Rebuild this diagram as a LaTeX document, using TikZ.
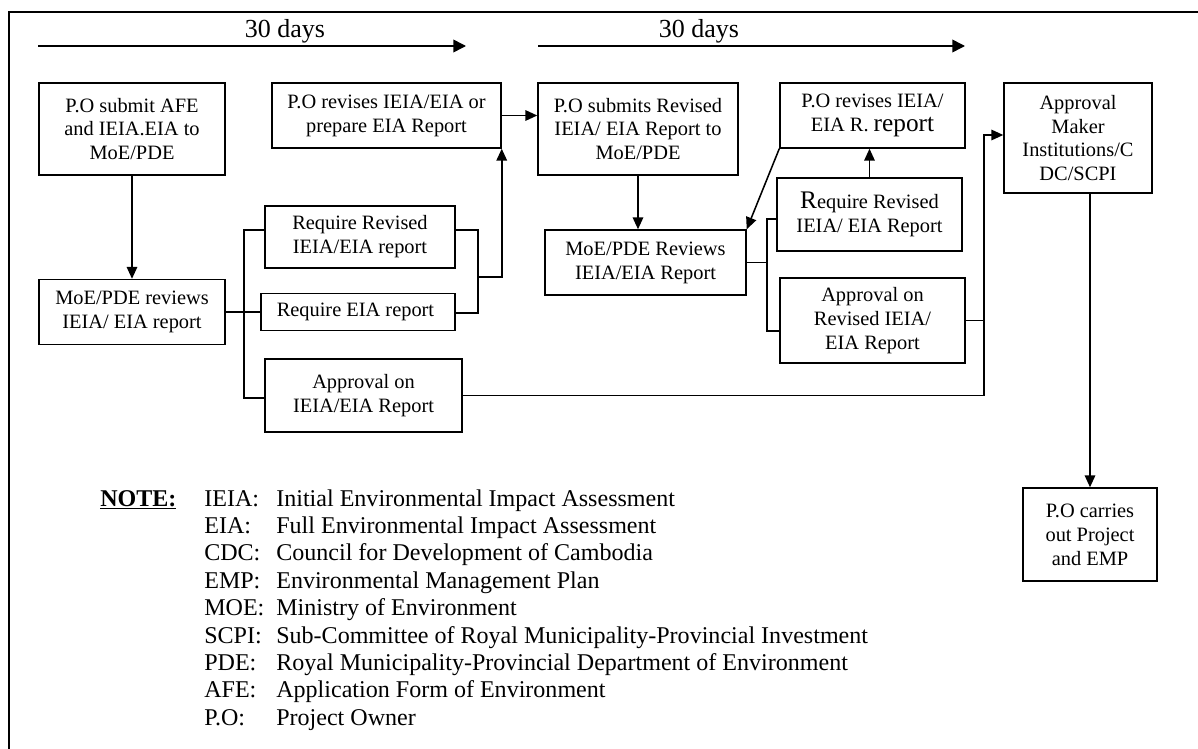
\documentclass[tikz,border=0pt]{standalone}
\usepackage{fontspec}
\setmainfont{Liberation Serif}
\usetikzlibrary{arrows.meta}

\begin{document}
\begin{tikzpicture}[x = 0.025cm, y = -0.025cm,
    every node/.style = { align = center, inner sep = 1pt },
    box/.style = { draw, line width = 1pt, font = \fontsize{14.5}{17}\selectfont },
    flow/.style = { line width = 1.1pt },
    >={Triangle[length = 8.5pt, width = 7.5pt]}]
    \useasboundingbox (0,0) rectangle (1198,749);
    \draw [line width = 1.6pt] (9,749) -- (9,12) -- (1198,12);

    % time lines
    \coordinate (t1a) at (38,46);  \coordinate (t1b) at (466,46);
    \coordinate (t2a) at (538,46); \coordinate (t2b) at (965,46);
    \draw [flow, -{Triangle[length = 9pt, width = 9pt]}] (t1a) -- (t1b);
    \draw [flow, -{Triangle[length = 9pt, width = 9pt]}] (t2a) -- (t2b);
    \node [font = \fontsize{18.5}{20}\selectfont] (days1) at (285,31) {30 days};
    \node [font = \fontsize{18.5}{20}\selectfont] (days2) at (699,31) {30 days};

    % first round
    \node [box, minimum width = 4.65cm, minimum height = 2.3cm] (submit) at (132,129)
      { P.O submit AFE \\ and IEIA.EIA to \\ MoE/PDE };
    \node [box, minimum width = 4.65cm, minimum height = 1.625cm] (review) at (132,312)
      { MoE/PDE reviews \\ IEIA/ EIA report };
    \node [box, minimum width = 5.725cm, minimum height = 1.625cm] (revise) at (386.5,115.5)
      { P.O revises IEIA/EIA or \\ prepare EIA Report };
    \node [box, minimum width = 4.75cm, minimum height = 1.55cm] (reqrev) at (360,237)
      { Require Revised \\ IEIA/EIA report };
    \node [box, minimum width = 4.85cm, minimum height = 0.925cm] (reqeia) at (358,312)
      { Require EIA report };
    \node [box, minimum width = 4.925cm, minimum height = 1.825cm] (approve) at (363.5,395.5)
      { Approval on \\ IEIA/EIA Report };

    % second round
    \node [box, minimum width = 5cm, minimum height = 2.3cm] (resubmit) at (638,129)
      { P.O submits Revised \\ IEIA/ EIA Report to \\ MoE/PDE };
    \node [box, minimum width = 5.025cm, minimum height = 1.625cm] (rereview) at (645.5,262.5)
      { MoE/PDE Reviews \\ IEIA/EIA Report };
    \node [box, minimum width = 4.625cm, minimum height = 1.625cm] (rerevise) at (872.5,115.5)
      { P.O revises IEIA/ \\ EIA R. {\fontsize{18}{17}\selectfont report} };
    \node [box, minimum width = 4.625cm, minimum height = 1.825cm] (rereq) at (869.5,214.5)
      { {\fontsize{18}{17}\selectfont R}equire Revised \\ IEIA/ EIA Report };
    \node [box, minimum width = 4.625cm, minimum height = 2.125cm] (reapprove) at (872.5,320.5)
      { Approval on \\ Revised IEIA/ \\ EIA Report };

    % approval and project
    \node [box, minimum width = 3.7cm, minimum height = 2.75cm] (maker) at (1078,138)
      { Approval \\ Maker \\ Institutions/C \\ DC/SCPI };
    \node [box, minimum width = 3.35cm, minimum height = 2.325cm] (carry) at (1090,534.5)
      { P.O carries \\ out Project \\ and EMP };

    % connectors
    \coordinate (lb1) at (244,230);  \coordinate (lb2) at (244,398);
    \coordinate (rb1) at (478,230);  \coordinate (rb2) at (478,313);
    \coordinate (rb3) at (478,277);
    \coordinate (hb1) at (767,219);  \coordinate (hb2) at (767,331);
    \coordinate (kb) at (984,135);
    \draw [flow, ->] (submit) -- (review);
    \draw [flow] (review.east) -- (reqeia.west);
    \draw [flow] (reqrev.west |- lb1) -- (lb1) -- (lb2) -- (approve.west |- lb2);
    \draw [flow] (reqrev.east |- rb1) -- (rb1) -- (rb2) -- (reqeia.east |- rb2);
    \draw [flow, ->] (rb3) -| (revise.south east);
    \draw [flow, ->] (revise.east) -- (revise.east -| resubmit.west);
    \draw [flow, ->] (resubmit.south) -- (resubmit.south |- rereview.north);
    \draw [flow, ->] (rerevise.south west) -- (rereview.north east);
    \draw [flow, ->] (rereq.north) -- (rereq.north |- rerevise.south);
    \draw [flow] (rereview.east) -- (rereview.east -| hb1);
    \draw [flow] (rereq.west |- hb1) -- (hb1) -- (hb2) -- (reapprove.west |- hb2);
    \draw [flow, ->] (approve.east) -| (kb) -- (kb -| maker.west);
    \draw [flow] (reapprove.east) -- (reapprove.east -| kb);
    \draw [flow, ->] (maker.south -| carry.north) -- (carry.north);

    % notes
    \node [anchor = base west, inner sep = 0pt, align = left,
           font = \fontsize{17.1}{19.5}\selectfont] (notes) at (100,506)
      { \begin{tabular}[t]{@{}p{2.6cm}@{}p{1.8cm}@{}l@{}}
        \textbf{\underline{NOTE:}} & IEIA: & Initial Environmental Impact Assessment \\
        & EIA: & Full Environmental Impact Assessment \\
        & CDC: & Council for Development of Cambodia \\
        & EMP: & Environmental Management Plan \\
        & MOE: & Ministry of Environment \\
        & SCPI: & Sub-Committee of Royal Municipality-Provincial Investment \\
        & PDE: & Royal Municipality-Provincial Department of Environment \\
        & AFE: & Application Form of Environment \\
        & P.O: & Project Owner
        \end{tabular} };
\end{tikzpicture}
\end{document}
